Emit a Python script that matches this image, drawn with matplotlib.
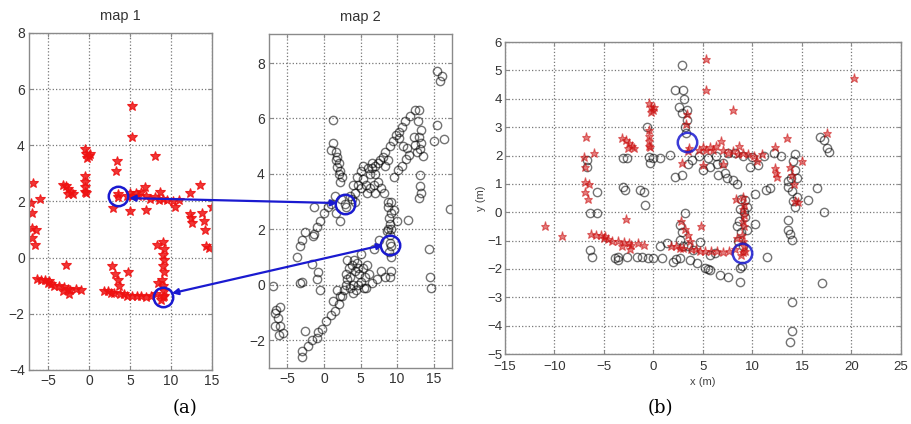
import numpy as np
import matplotlib
matplotlib.use("Agg")
import matplotlib.pyplot as plt
from matplotlib.patches import ConnectionPatch

plt.rcParams["font.family"] = ["Liberation Sans", "DejaVu Sans"]

# red stars (map 1), also the red layer of the merged map
map1_pts = [
    (5.3, 5.4), (5.3, 4.3), (8.0, 3.6), (3.4, 3.45), (3.3, 3.1),
    (-0.5, 3.85), (-0.3, 3.7), (0.0, 3.6), (-0.2, 3.55), (0.1, 3.7),
    (-0.5, 2.9), (-0.5, 2.7), (-0.45, 2.5), (-0.5, 2.35), (-0.4, 2.3),
    (-3.2, 2.6), (-2.8, 2.55), (-2.5, 2.45), (-2.2, 2.35), (-2.0, 2.25), (-2.6, 2.25),
    (-6.8, 2.65), (-6.0, 2.1), (-7.0, 1.95), (-6.9, 1.6), (-6.9, 1.05), (-6.5, 1.0),
    (-6.9, 0.7), (-6.6, 0.45),
    (3.6, 2.25), (3.5, 2.15),
    (4.6, 2.2), (5.0, 2.3), (5.3, 2.2), (5.7, 2.3), (6.0, 2.2), (6.3, 2.35), (6.8, 2.5),
    (7.0, 2.2), (7.5, 2.1), (8.0, 2.15), (8.5, 2.05), (9.0, 2.1), (9.5, 2.05),
    (10.2, 2.0), (11.0, 2.05), (8.6, 2.35),
    (5.0, 1.65), (7.0, 1.7), (2.9, 1.75), (10.5, 1.8),
    (13.5, 2.6), (12.3, 2.3), (12.3, 1.55), (12.5, 1.25), (13.8, 1.6), (14.0, 1.3),
    (14.2, 1.0), (15.0, 1.8), (14.3, 0.4), (14.6, 0.35), (12.4, 1.4),
    (8.3, 0.45), (9.0, 0.55), (9.1, 0.3), (9.0, 0.1), (9.1, -0.1), (9.0, -0.3),
    (9.1, -0.5), (8.9, -0.8), (9.0, -1.0), (9.1, -1.2), (8.4, -0.9), (9.0, -1.4),
    (8.8, -1.5), (9.2, -1.35),
    (-2.8, -0.25),
    (-6.3, -0.75), (-5.8, -0.8), (-5.3, -0.8), (-4.9, -0.85), (-4.6, -0.95),
    (-4.2, -1.0), (-3.6, -1.0), (-3.0, -1.05), (-2.5, -1.1), (-2.3, -1.15),
    (-1.6, -1.1), (-1.0, -1.15), (-5.0, -0.9), (-3.2, -1.2), (-2.4, -1.3),
    (2.8, -0.3), (3.2, -0.6), (3.5, -0.8), (3.7, -1.0), (4.8, -0.5),
    (1.8, -1.2), (2.3, -1.2), (2.7, -1.25), (3.0, -1.25), (3.8, -1.3), (4.3, -1.3),
    (4.7, -1.35), (5.2, -1.35), (5.8, -1.35), (6.4, -1.35), (7.0, -1.4), (7.6, -1.35),
    (8.2, -1.3),
    (-11.0, -0.5), (-9.2, -0.85), (17.5, 2.8), (20.3, 4.75),
]

# black circles (map 2)
map2_pts = [
    (-3.0, -2.6), (-3.0, -2.4), (-2.2, -2.2), (-1.7, -2.0), (-1.0, -1.9), (-0.8, -1.7),
    (-0.2, -1.6), (0.3, -1.3), (1.0, -1.1), (1.5, -0.95), (2.0, -0.7), (2.4, -0.4),
    (2.8, -0.2), (3.0, 0.0), (3.2, 0.2),
    (3.0, 0.4), (3.4, 0.6), (3.6, 0.3), (3.9, 0.0), (4.2, 0.5), (4.5, 0.8), (4.8, 0.4),
    (5.0, 0.1), (5.3, 0.6), (5.6, 0.3), (5.9, 0.7), (4.0, -0.3), (4.4, -0.2), (4.7, 0.0),
    (3.5, -0.1), (4.1, 0.9), (5.5, -0.1), (3.2, 0.9), (6.2, 0.4), (3.8, 0.7), (4.6, 0.6),
    (5.8, -0.1), (6.5, 0.05), (7.2, 0.2), (7.8, 0.5), (8.4, 0.3), (9.1, 0.5), (9.0, 0.3),
    (1.3, -0.6), (1.8, -0.2), (2.2, -0.4), (5.0, 1.1), (6.8, 1.3), (7.5, 1.6),
    (8.7, 3.0), (9.2, 3.0), (8.8, 2.8), (9.1, 2.6), (8.9, 2.4), (9.0, 2.2), (8.8, 2.0),
    (9.2, 2.0), (9.0, 1.8), (9.0, 1.5), (9.1, 1.4), (8.9, 1.2), (9.1, 1.0), (8.6, 1.95),
    (9.6, 2.7), (10.0, 2.3), (11.5, 2.35),
    (-6.9, -0.05), (-6.5, -0.9), (-6.0, -0.8), (-6.7, -1.0), (-6.3, -1.2), (-6.7, -1.5),
    (-6.0, -1.5), (-5.6, -1.75), (-6.2, -1.8), (-2.6, -1.65), (-3.3, 0.05), (-3.0, 0.1),
    (-1.7, 0.75), (-0.8, 0.45), (-0.6, -0.2), (-1.0, 0.2),
    (-3.7, 1.0), (-3.3, 1.4), (-3.0, 1.6), (-2.6, 1.9), (-1.5, 1.75), (-1.3, 1.85),
    (-1.0, 2.1), (-1.4, 2.8), (-0.5, 2.3), (0.0, 2.6), (0.5, 2.8), (1.0, 2.9), (1.7, 2.6),
    (2.2, 2.3), (1.5, 3.2), (2.3, 3.1), (2.9, 2.9), (3.0, 2.8), (3.6, 3.2), (4.2, 3.3),
    (4.6, 3.6), (5.0, 3.5), (5.4, 3.8), (5.8, 3.6), (6.3, 4.0), (6.6, 4.2), (7.0, 4.3),
    (7.4, 4.4), (8.0, 4.6), (8.4, 4.8), (9.0, 5.0), (9.4, 5.2), (9.8, 5.4), (10.2, 5.5),
    (10.6, 5.7), (11.1, 5.9), (11.8, 6.1), (12.4, 6.3),
    (4.5, 3.9), (5.0, 4.1), (5.4, 4.3), (6.0, 4.2), (6.6, 4.4), (7.0, 4.0), (7.4, 3.7),
    (7.8, 3.5), (6.8, 3.6), (5.9, 3.3), (6.3, 3.5), (8.2, 3.3), (7.0, 3.3), (4.0, 3.6),
    (3.8, 3.1), (4.3, 3.0), (7.6, 4.5), (8.4, 4.3), (8.8, 4.5),
    (1.3, 5.95), (1.3, 5.1), (1.0, 4.85), (1.6, 4.8), (1.8, 4.6), (2.0, 4.4), (1.8, 4.25),
    (2.2, 4.1), (2.4, 3.9), (2.2, 3.7), (1.6, 4.5), (2.0, 4.0),
    (13.0, 6.3), (12.8, 5.9), (13.2, 5.6), (13.0, 5.35), (13.3, 5.1), (13.1, 4.9),
    (13.5, 4.65), (12.3, 5.35), (12.5, 5.05), (12.7, 4.8), (10.2, 5.3), (10.8, 5.0),
    (11.4, 4.95), (11.6, 4.7), (11.2, 4.55), (10.6, 4.3), (10.1, 4.15), (9.5, 3.9),
    (13.1, 3.95), (13.1, 3.55), (13.2, 3.3), (13.0, 3.15), (15.4, 5.75), (15.0, 5.2),
    (16.4, 5.25), (15.4, 7.7), (16.1, 7.55), (15.9, 7.35), (17.2, 2.75), (14.4, 1.3),
    (14.5, 0.3), (14.6, -0.1),
]

# black circles of the merged map (b)
merged_pts = [
    (2.85, 5.2), (2.2, 4.3), (3.0, 4.3), (3.1, 4.0), (2.6, 3.7), (2.85, 3.5), (3.35, 3.6),
    (3.2, 3.0), (3.35, 3.25), (3.3, 2.8),
    (3.5, 1.7), (3.85, 1.85), (2.2, 1.25), (2.85, 1.3),
    (5.0, 1.5), (5.7, 1.6), (6.4, 1.7), (6.55, 1.3), (7.4, 1.2), (8.06, 1.14), (8.4, 1.0),
    (7.2, 1.4), (5.5, 1.9), (6.3, 2.0),
    (-6.75, 1.85), (-6.75, 1.6), (-5.7, 0.72), (-6.4, -0.04), (-5.7, -0.04),
    (-3.05, 1.9), (-2.7, 1.9), (-3.05, 0.9), (-2.9, 0.78),
    (-0.7, 3.0), (-0.5, 1.96), (-0.35, 1.72), (0.0, 1.9), (0.65, 1.9), (1.67, 2.02),
    (-1.4, 0.78), (-1.0, 0.72), (-0.86, 0.25),
    (-6.4, -1.33), (-6.25, -1.57),
    (-3.9, -1.63), (-3.55, -1.57), (-3.6, -1.7), (-2.7, -1.57), (-1.7, -1.59), (-1.2, -1.57),
    (-0.6, -1.6), (0.0, -1.63), (0.82, -1.63), (2.0, -1.74), (2.3, -1.65), (2.68, -1.63),
    (3.69, -1.68), (4.36, -1.8), (5.2, -1.98), (5.5, -2.0), (5.7, -2.04), (6.7, -2.22),
    (7.56, -2.28), (5.7, -1.51), (6.2, -1.45),
    (0.65, -1.2), (1.33, -1.1), (2.68, -0.98), (3.5, -1.2), (4.0, -1.33), (4.7, -1.04),
    (3.0, -1.2),
    (3.2, -0.04), (2.85, -0.69), (2.68, -0.45),
    (8.7, -2.45), (8.7, -1.98), (8.9, -1.9),
    (8.4, -0.5), (8.57, -1.0), (8.6, -0.3), (8.7, 0.1),
    (9.24, 0.43), (9.4, 0.2), (9.24, -0.16), (9.4, -0.63),
    (10.25, 0.66), (10.25, -0.4), (11.5, -1.57), (11.4, 0.78), (11.8, 0.84),
    (12.9, 2.0), (13.6, 1.1), (13.6, 0.9), (13.9, 1.2), (14.1, 1.8), (14.3, 2.05),
    (14.3, 1.5), (14.5, 1.2), (14.5, 0.55), (14.1, 0.4), (14.3, 0.2), (13.96, 0.75),
    (13.6, -0.27), (13.6, -0.63), (13.8, -0.75), (13.96, -0.98),
    (13.96, -3.15), (13.96, -4.2), (13.8, -4.56),
    (15.6, 0.43), (16.5, 0.84), (17.2, 0.02),
    (16.8, 2.66), (17.2, 2.55), (17.5, 2.25), (17.7, 2.13),
    (17.0, -2.5),
    (7.5, 2.1), (8.2, 2.1), (9.0, 2.0), (10.0, 1.95), (11.2, 2.0), (12.2, 2.1), (4.6, 2.0),
    (7.0, 1.75), (9.8, 1.6), (10.6, 1.66),
    (8.8, 0.45), (9.1, 0.0), (8.8, -0.7), (9.0, -1.2),
]

# matched landmarks (blue rings)
match_map1 = [(3.6, 2.2), (9.0, -1.4)]
match_map2 = [(2.9, 2.9), (9.0, 1.45)]
match_merged = [(3.35, 2.48), (8.9, -1.45)]
# arrow ends: map 1 side, map 2 side
arrow_map1 = [(4.9, 2.12), (10.1, -1.27)]
arrow_map2 = [(1.8, 2.95), (8.1, 1.44)]

RED = "#ee1111"
BLUE = "#1a1ad0"
GREY = "#8a8a8a"


def style_axes(ax, xticks, yticks):
    ax.set_xticks(xticks)
    ax.set_yticks(yticks)
    ax.grid(True, linestyle=":", color="#777777", linewidth=0.9)
    ax.tick_params(direction="in", length=3, color=GREY, labelsize=10,
                   labelcolor="#333333", top=True, right=True, pad=3)
    for s in ax.spines.values():
        s.set_color(GREY)
        s.set_linewidth(1.0)
    ax.set_axisbelow(True)


fig = plt.figure(figsize=(9.12, 4.24), dpi=100)
ax1 = fig.add_axes([0.0318, 0.1274, 0.2007, 0.795])
ax2 = fig.add_axes([0.2950, 0.1320, 0.2007, 0.788])
ax3 = fig.add_axes([0.5537, 0.1650, 0.4342, 0.7358])

m1 = np.array(map1_pts)
m2 = np.array(map2_pts)
mm = np.array(merged_pts)

# map 1
ax1.plot(m1[:, 0], m1[:, 1], "*", color=RED, ms=7, mew=0.8, alpha=0.85)
for x, y in match_map1:
    ax1.plot(x, y, "o", mfc="none", mec=BLUE, ms=14, mew=1.8)
ax1.set_xlim(-7.3, 15)
ax1.set_ylim(-4, 8)
style_axes(ax1, [-5, 0, 5, 10, 15], np.arange(-4, 9, 2))
ax1.set_title("map 1", fontsize=10.5, color="#333333", pad=9)

# map 2
ax2.plot(m2[:, 0], m2[:, 1], "o", mfc="none", mec="black", ms=6, mew=1.0, alpha=0.55)
for x, y in match_map2:
    ax2.plot(x, y, "o", mfc="none", mec=BLUE, ms=14, mew=1.8)
ax2.set_xlim(-7.5, 17.5)
ax2.set_ylim(-3, 9.05)
style_axes(ax2, [-5, 0, 5, 10, 15], np.arange(-2, 9, 2))
ax2.set_title("map 2", fontsize=10.5, color="#333333", pad=9)

# double-headed arrows between the two maps
for p1, p2 in zip(arrow_map1, arrow_map2):
    con = ConnectionPatch(xyA=p1, coordsA=ax1.transData, xyB=p2, coordsB=ax2.transData,
                          arrowstyle="<|-|>", color=BLUE, lw=1.6, mutation_scale=9)
    fig.add_artist(con)

# merged map
ax3.plot(mm[:, 0], mm[:, 1], "o", mfc="none", mec="black", ms=6, mew=1.0, alpha=0.55)
ax3.plot(m1[:, 0], m1[:, 1], "*", color="#cc1010", ms=6.5, mew=0.8, alpha=0.55)
for x, y in match_merged:
    ax3.plot(x, y, "o", mfc="none", mec=BLUE, ms=14, mew=1.8, alpha=0.85)
ax3.set_xlim(-15, 25)
ax3.set_ylim(-5, 6)
style_axes(ax3, np.arange(-15, 26, 5), np.arange(-5, 7, 1))
ax3.tick_params(axis="x", labelsize=9.5, pad=5)
ax3.tick_params(axis="y", labelsize=9.5, pad=2)
ax3.set_xlabel("x (m)", fontsize=8, color="#444444", labelpad=3)
ax3.set_ylabel("y (m)", fontsize=8, color="#444444", labelpad=1)

fig.text(185 / 912, 1 - 408 / 424, "(a)", family="DejaVu Serif", fontsize=13,
         ha="center", va="center")
fig.text(660 / 912, 1 - 408 / 424, "(b)", family="DejaVu Serif", fontsize=13,
         ha="center", va="center")

fig.savefig("out.png", dpi=100)
